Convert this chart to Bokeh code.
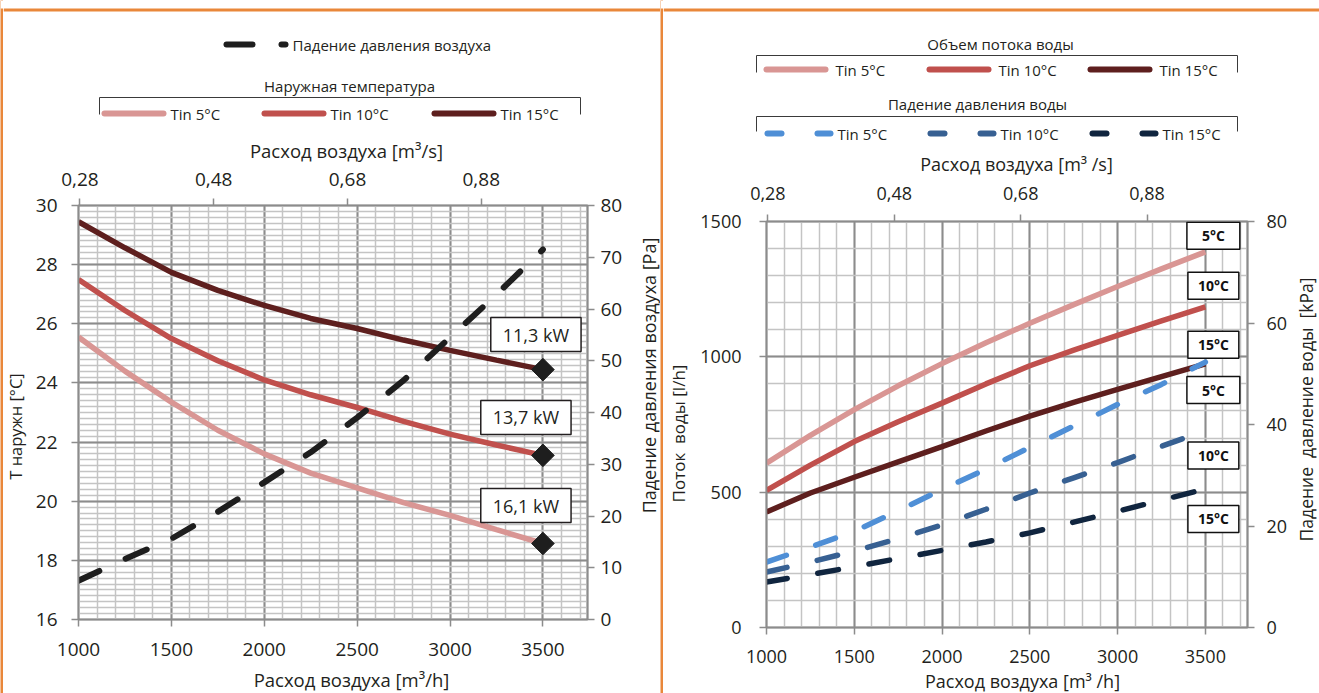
import math
import numpy as np
from bokeh.plotting import figure
from bokeh.models import Range1d, LinearAxis, FixedTicker, CustomJSTickFormatter, Label
from bokeh.layouts import row, column
from bokeh.core.properties import value
from bokeh.embed import file_html
from bokeh.resources import INLINE

# ---------------- data ----------------
airflow_m3h = [1000, 1250, 1500, 1750, 2000, 2250, 2500, 2750, 3000, 3250, 3500]

# left chart: outdoor temperature [°C] for inlet water temperature Tin
t_out_tin5 = [25.55, 24.4, 23.35, 22.4, 21.6, 20.95, 20.45, 19.95, 19.52, 19.04, 18.57]
t_out_tin10 = [27.5, 26.45, 25.5, 24.75, 24.1, 23.6, 23.17, 22.7, 22.27, 21.9, 21.55]
t_out_tin15 = [29.45, 28.57, 27.74, 27.13, 26.62, 26.18, 25.84, 25.45, 25.1, 24.77, 24.45]
# air pressure drop [Pa]
air_dp_pa = [7.5, 11.7, 15.6, 20.8, 26.5, 32.3, 39.0, 46.2, 54.5, 62.8, 71.5]
capacity_labels = ["16,1 kW", "13,7 kW", "11,3 kW"]  # Tin 5, 10, 15

# right chart: water flow [l/h]
water_flow_tin5 = [607, 710, 805, 893, 975, 1052, 1124, 1193, 1260, 1325, 1388]
water_flow_tin10 = [507, 600, 687, 760, 829, 900, 967, 1025, 1079, 1133, 1185]
water_flow_tin15 = [427, 497, 555, 612, 668, 726, 781, 832, 880, 927, 974]
# water pressure drop [kPa]
water_dp_tin5 = [12.9, 15.85, 18.95, 23.0, 27.2, 31.2, 35.5, 39.7, 43.95, 47.9, 52.3]
water_dp_tin10 = [10.94, 12.9, 15.05, 17.5, 20.2, 23.3, 26.5, 29.5, 32.5, 35.7, 38.8]
water_dp_tin15 = [8.97, 10.45, 11.95, 13.6, 15.2, 16.85, 18.65, 20.75, 22.9, 25.1, 27.3]
series_labels = ["5°C", "10°C", "15°C"]
legend_labels = ["Tin 5°C", "Tin 10°C", "Tin 15°C"]

# axis ticks
x_ticks = [1000, 1500, 2000, 2500, 3000, 3500]
x_minor = list(range(1000, 3800, 100))
top_ticks = [0.28, 0.48, 0.68, 0.88]
temp_ticks = [16, 18, 20, 22, 24, 26, 28, 30]
temp_minor = [round(v, 1) for v in np.arange(16, 30.01, 0.2)]
pa_ticks = [0, 10, 20, 30, 40, 50, 60, 70, 80]
flow_ticks = [0, 500, 1000, 1500]
flow_minor = list(range(0, 1501, 100))
kpa_ticks = [0, 20, 40, 60, 80]

# ---------------- styles ----------------
FONT = "Open Sans"
TXT = "#231F20"
GRID_DARK = "#8C8C8C"
GRID_LIGHT = "#C4C4C4"
ORANGE = "#E9873A"
C5, C10, C15 = "#D99694", "#C0504D", "#5E1F1E"
B5, B10, B15 = "#4F8FD6", "#376092", "#10253F"
BLACK = "#1E1E1E"
BRACKET = "#3A3A3A"
X_END = 3740
H = 693
NB = "\u00a0"


def no_align(p):
    try:
        p.frame_align = False
    except Exception:
        pass


def style_axis(ax, font_px, ticks, tick_standoff):
    ax.ticker = FixedTicker(ticks=ticks)
    ax.axis_label = None
    ax.major_label_text_font = FONT
    ax.major_label_text_font_size = f"{font_px}px"
    ax.major_label_text_color = TXT
    ax.major_label_standoff = tick_standoff
    ax.axis_line_color = GRID_DARK
    ax.axis_line_width = 1.5
    ax.major_tick_line_color = GRID_DARK
    ax.major_tick_line_width = 1.5
    ax.major_tick_in = 0
    ax.major_tick_out = 7
    ax.minor_tick_line_color = None


def style_grid(p, xt, xm, yt, ym):
    p.xgrid.ticker = FixedTicker(ticks=xt, minor_ticks=xm)
    p.ygrid.ticker = FixedTicker(ticks=yt, minor_ticks=ym)
    for g in (p.xgrid, p.ygrid):
        g.grid_line_color = GRID_DARK
        g.grid_line_width = 2
        g.minor_grid_line_color = GRID_LIGHT
        g.minor_grid_line_width = 1.5
    p.outline_line_color = GRID_DARK
    p.outline_line_width = 2


def make_chart(bl, bt, fw, fh, br, bb, yr):
    p = figure(frame_width=fw, frame_height=fh, min_border_left=bl, min_border_top=bt,
               min_border_right=br, min_border_bottom=bb,
               x_range=Range1d(1000, X_END), y_range=yr,
               output_backend="svg", toolbar_location=None)
    p.background_fill_color = "white"
    p.border_fill_color = "white"
    no_align(p)
    return p


def make_canvas(w, h):
    """A plain drawing area whose data units are its own pixels (y downwards)."""
    p = figure(width=w, height=h, x_range=Range1d(0, w), y_range=Range1d(h, 0),
               min_border=0, output_backend="svg", toolbar_location=None,
               x_axis_location=None, y_axis_location=None)
    p.grid.visible = False
    p.outline_line_color = None
    p.background_fill_color = "white"
    p.border_fill_color = "white"
    no_align(p)
    return p


def make_bar(h):
    p = make_canvas(3, h)
    p.background_fill_color = ORANGE
    p.border_fill_color = ORANGE
    p.quad(left=[0], right=[3], top=[0], bottom=[8], fill_color="white", line_color=None)
    return p


def tools(p, dx, dy=0):
    def txt(cx, cy, text, align="left", size="15px", angle=0.0):
        p.text(x=[cx - dx], y=[cy - dy], text=[text], text_font=value(FONT), text_font_size=size,
               text_color=TXT, text_align=align, text_baseline="middle", angle=angle)

    def seg(x0, y0, x1, y1, color, width, cap="butt"):
        p.segment(x0=[x0 - dx], y0=[y0 - dy], x1=[x1 - dx], y1=[y1 - dy], line_color=color,
                  line_width=width, line_cap=cap)
    return txt, seg


top_fmt = "return tick.toFixed(2).replace('.', ',');"

# =============== LEFT PANEL (canvas x 3..660) ===============
LEG1 = 162            # legend strip (canvas y 0..162)
CH1_B = 663           # chart figure bottom (canvas y)
leg1 = make_canvas(657, LEG1)
txt1, seg1 = tools(leg1, 3)
seg1(3, 9.5, 660, 9.5, ORANGE, 3)
seg1(226, 44, 252, 44, BLACK, 6, "round")
seg1(281, 44, 285, 44, BLACK, 6, "round")
txt1(292, 44, "Падение давления воздуха")
txt1(349, 85, "Наружная температура", align="center")
seg1(99, 97, 580, 97, BRACKET, 1)
seg1(99, 97, 99, 114, BRACKET, 1)
seg1(580, 97, 580, 114, BRACKET, 1)
for x0, c, lab in zip([104, 264, 434], [C5, C10, C15], legend_labels):
    seg1(x0, 113, x0 + 59, 113, c, 6, "round")
    txt1(x0 + 66, 113, lab)
txt1(346, 150, "Расход воздуха [m³/s]", align="center", size="18.5px")

# chart: frame canvas x 78..587, y 205..619; figure canvas x 31..629
p1 = make_chart(47, 205 - LEG1, 509, 414, 42, CH1_B - 619, Range1d(16, 30))
p1.extra_y_ranges = {"pa": Range1d(0, 80)}
p1.extra_x_ranges = {"ms": Range1d(1000 / 3600, X_END / 3600)}
style_axis(p1.below[0], 19, x_ticks, 16)
style_axis(p1.left[0], 19, temp_ticks, 14)
ax_r = LinearAxis(y_range_name="pa")
style_axis(ax_r, 19, pa_ticks, 6)
p1.add_layout(ax_r, "right")
ax_t = LinearAxis(x_range_name="ms")
style_axis(ax_t, 19, top_ticks, 13)
ax_t.formatter = CustomJSTickFormatter(code=top_fmt)
p1.add_layout(ax_t, "above")
style_grid(p1, x_ticks, x_minor, temp_ticks, temp_minor)

for ys, c in zip([t_out_tin5, t_out_tin10, t_out_tin15], [C5, C10, C15]):
    p1.line(airflow_m3h, ys, line_color=c, line_width=5.5)
p1.line(airflow_m3h, air_dp_pa, y_range_name="pa", line_color=BLACK, line_width=6,
        line_dash="23 29", line_cap="round")
end_vals = [t_out_tin5[-1], t_out_tin10[-1], t_out_tin15[-1]]
p1.scatter([airflow_m3h[-1]] * 3, end_vals, marker="square", angle=np.pi / 4, size=16,
           fill_color=BLACK, line_color=BLACK)
for val, text, dx, dy in zip(end_vals, capacity_labels, [-17, -17, -7], [38, 38, 35]):
    p1.add_layout(Label(x=airflow_m3h[-1], y=val, text=text, x_offset=dx, y_offset=dy,
                        text_align="center", text_baseline="middle", text_font=FONT,
                        text_font_size="18px", text_color=TXT, border_line_color=TXT,
                        border_line_width=1.5, background_fill_color="white", padding=(12, 5)))

ch1_h = CH1_B - LEG1
ls1 = make_canvas(28, ch1_h)          # canvas x 3..31
t, _ = tools(ls1, 3, LEG1)
t(15, 426, "T наружн [°C]", align="center", size="16.5px", angle=math.pi / 2)
rs1 = make_canvas(31, ch1_h)          # canvas x 629..660
t, _ = tools(rs1, 629, LEG1)
t(648, 375, "Падение давления воздуха [Pa]", align="center", size="18px", angle=math.pi / 2)
bs1 = make_canvas(657, H - CH1_B)     # canvas y 663..693
t, _ = tools(bs1, 3, CH1_B)
t(351, 679, "Расход воздуха [m³/h]", align="center", size="18.5px")

left_panel = column(leg1, row(ls1, p1, rs1, spacing=0), bs1, spacing=0)

# =============== RIGHT PANEL (canvas x 663..1319) ===============
LEG2 = 176
CH2_B = 668
leg2 = make_canvas(656, LEG2)
txt2, seg2 = tools(leg2, 663)
seg2(663, 9.5, 1319, 9.5, ORANGE, 3)
txt2(1000, 43, "Объем потока воды", align="center")
seg2(756, 55, 1237, 55, BRACKET, 1)
seg2(756, 55, 756, 72, BRACKET, 1)
seg2(1237, 55, 1237, 72, BRACKET, 1)
for x0, c, lab in zip([766, 929, 1090], [C5, C10, C15], legend_labels):
    seg2(x0, 69, x0 + 59, 69, c, 6, "round")
    txt2(x0 + 69, 69, lab)
txt2(977, 103, "Падение давления воды", align="center")
seg2(756, 116, 1237, 116, BRACKET, 1)
seg2(756, 116, 756, 131, BRACKET, 1)
seg2(1237, 116, 1237, 131, BRACKET, 1)
for x0, c, lab in zip([767, 930, 1092], [B5, B10, B15], legend_labels):
    seg2(x0, 133, x0 + 14, 133, c, 6, "round")
    seg2(x0 + 50, 133, x0 + 63, 133, c, 6, "round")
    txt2(x0 + 70, 133, lab)
txt2(1016, 163, "Расход воздуха [m³ /s]", align="center", size="18px")

# chart: frame canvas x 766..1247, y 221..627; figure canvas x 692..1292
p2 = make_chart(74, 221 - LEG2, 481, 406, 45, CH2_B - 627, Range1d(0, 1500))
p2.extra_y_ranges = {"kpa": Range1d(0, 80)}
p2.extra_x_ranges = {"ms": Range1d(1000 / 3600, X_END / 3600)}
style_axis(p2.below[0], 18, x_ticks, 15)
style_axis(p2.left[0], 18, flow_ticks, 18)
ax_r2 = LinearAxis(y_range_name="kpa")
style_axis(ax_r2, 18, kpa_ticks, 12)
p2.add_layout(ax_r2, "right")
ax_t2 = LinearAxis(x_range_name="ms")
style_axis(ax_t2, 18, top_ticks, 15)
ax_t2.formatter = CustomJSTickFormatter(code=top_fmt)
p2.add_layout(ax_t2, "above")
style_grid(p2, x_ticks, x_minor, flow_ticks, flow_minor)

for ys, c in zip([water_flow_tin5, water_flow_tin10, water_flow_tin15], [C5, C10, C15]):
    p2.line(airflow_m3h, ys, line_color=c, line_width=5.5)
for ys, c in zip([water_dp_tin5, water_dp_tin10, water_dp_tin15], [B5, B10, B15]):
    p2.line(airflow_m3h, ys, y_range_name="kpa", line_color=c, line_width=5.5,
            line_dash="21 31", line_cap="round")

flow_ends = [water_flow_tin5[-1], water_flow_tin10[-1], water_flow_tin15[-1]]
dp_ends = [water_dp_tin5[-1], water_dp_tin10[-1], water_dp_tin15[-1]]
pads = [(15, 4), (10, 4), (10, 4)]
box_style = dict(text_align="center", text_baseline="middle", text_font=FONT,
                 text_font_size="14px", text_font_style="bold", text_color="#111111",
                 border_line_color="#111111", border_line_width=1.5,
                 background_fill_color="white")
for val, text, dy, pad in zip(flow_ends, series_labels, [16, 21, 19], pads):
    p2.add_layout(Label(x=airflow_m3h[-1], y=val, text=text, x_offset=8, y_offset=dy,
                        padding=pad, **box_style))
for val, text, dy, pad in zip(dp_ends, series_labels, [-28, -25, -30], pads):
    p2.add_layout(Label(x=airflow_m3h[-1], y=val, y_range_name="kpa", text=text, x_offset=8,
                        y_offset=dy, padding=pad, **box_style))

ch2_h = CH2_B - LEG2
ls2 = make_canvas(29, ch2_h)          # canvas x 663..692
t, _ = tools(ls2, 663, LEG2)
t(678, 433, "Поток" + NB + " воды [l/h]", align="center", size="17px", angle=math.pi / 2)
rs2 = make_canvas(27, ch2_h)          # canvas x 1292..1319
t, _ = tools(rs2, 1292, LEG2)
t(1305, 409, "Падение" + NB + " давление воды" + NB + " [kPa]", align="center", size="17.5px",
  angle=math.pi / 2)
bs2 = make_canvas(656, H - CH2_B)     # canvas y 668..693
t, _ = tools(bs2, 663, CH2_B)
t(1022, 680, "Расход воздуха [m³ /h]", align="center", size="18px")

right_panel = column(leg2, row(ls2, p2, rs2, spacing=0), bs2, spacing=0)

layout = row(make_bar(H), left_panel, make_bar(H), right_panel, spacing=0)
open("out.html", "w").write(file_html(layout, INLINE))
